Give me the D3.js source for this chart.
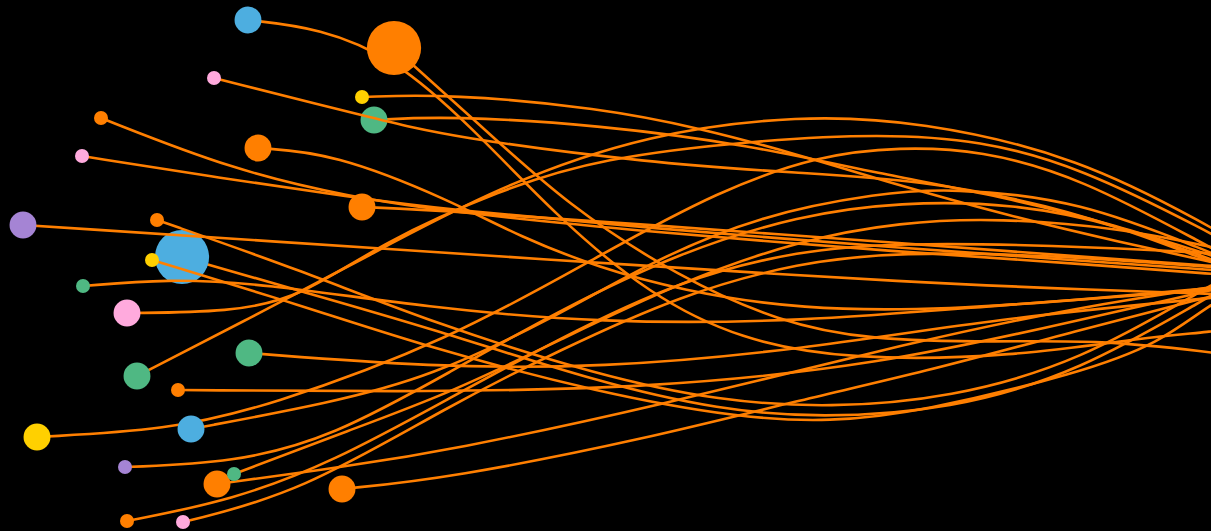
<!DOCTYPE html>
<html>
<head>
<meta charset="utf-8">
<script src="https://cdn.jsdelivr.net/npm/d3@7"></script>
<style>
    html, body { margin: 0; padding: 0; background: #000; overflow: hidden; }
    svg { display: block; }
</style>
</head>
<body>
<svg id="chart"></svg>
<script>
// node positions (picture units), group and weight
const nodeX = [182, 374, 248, 394, 214, 101, 362, 82, 258, 362, 23, 157, 152, 83, 127, 249, 137, 178, 37, 191, 125, 217, 234, 342, 127, 183];
const nodeY = [257, 120, 20, 48, 78, 118, 97, 156, 148, 207, 225, 220, 260, 286, 313, 353, 376, 390, 437, 429, 467, 484, 474, 489, 521, 522];
const nodeValue = [15, 3.7, 3.7, 15, 1, 1, 1, 1, 3.7, 3.7, 3.7, 1, 1, 1, 3.7, 3.7, 3.7, 1, 3.7, 3.7, 1, 3.7, 1, 3.7, 1, 1];
const nodeGroup = ['blue', 'green', 'blue', 'orange', 'pink', 'orange', 'yellow', 'pink', 'orange', 'orange', 'purple', 'orange',
    'yellow', 'green', 'pink', 'green', 'green', 'orange', 'yellow', 'blue', 'purple', 'orange', 'green', 'orange', 'orange', 'pink'];

// points read along each node's link, same order as the nodes
const linkPoints = [
    [[182,257],[300,291],[430,328],[600,383],[720,410],[820,418],[950,410],[1080,372],[1211,295],[1250,275]],
    [[374,120],[450,116],[600,125],[750,145],[880,174],[1000,196],[1120,226],[1211,256],[1250,266]],
    [[248,20],[320,28],[394,58],[470,125],[560,220],[650,295],[740,340],[850,360],[1013,357],[1147,337],[1211,332],[1250,326]],
    [[394,48],[480,125],[567,205],[680,278],[780,322],[867,340],[1000,342],[1100,340],[1211,352],[1250,358]],
    [[214,78],[373,118],[450,137],[650,163],[800,173],[920,180],[1050,205],[1150,238],[1211,262],[1250,276]],
    [[101,118],[233,170],[350,197],[450,212],[650,232],[900,252],[1100,265],[1211,274],[1250,276]],
    [[362,97],[450,94],[600,108],[700,128],[800,155],[880,180],[1013,217],[1120,242],[1211,262],[1250,270]],
    [[82,156],[220,178],[350,197],[450,210],[650,228],[900,248],[1100,262],[1211,270],[1250,272]],
    [[258,148],[333,153],[450,200],[520,237],[600,268],[680,290],[800,310],[950,310],[1100,298],[1211,288],[1250,285]],
    [[362,207],[450,211],[650,225],[900,243],[1100,258],[1211,266],[1250,268]],
    [[23,225],[450,253],[600,263],[920,283],[1100,290],[1211,294],[1250,295]],
    [[157,220],[300,270],[430,322],[600,376],[720,401],[830,408],[950,398],[1080,362],[1211,285],[1250,264]],
    [[152,260],[300,305],[430,348],[600,393],[740,418],[830,422],[920,412],[1080,373],[1160,343],[1211,303],[1250,285]],
    [[83,286],[167,279],[260,283],[430,308],[600,323],[800,322],[1000,305],[1211,290],[1250,287]],
    [[127,313],[230,312],[300,298],[383,242],[500,190],[600,158],[760,140],[880,134],[980,140],[1080,167],[1211,233],[1250,255]],
    [[249,353],[430,367],[600,368],[800,350],[1000,318],[1211,298],[1250,294]],
    [[137,376],[250,318],[357,262],[500,185],[650,133],[800,115],[920,121],[1080,157],[1211,227],[1250,250]],
    [[178,390],[430,392],[650,388],[880,365],[1080,320],[1211,290],[1250,282]],
    [[37,437],[167,430],[267,407],[450,340],[600,255],[720,190],[820,155],[900,147],[980,150],[1080,177],[1211,248],[1250,268]],
    [[191,429],[330,403],[430,377],[550,320],[650,262],[760,215],[880,193],[950,188],[1080,200],[1211,253],[1250,268]],
    [[125,467],[233,463],[333,437],[450,372],[560,310],[680,252],[800,215],[900,202],[1013,203],[1120,225],[1211,260],[1250,272]],
    [[217,484],[350,466],[450,450],[650,408],[920,340],[1080,307],[1211,287],[1250,282]],
    [[234,474],[350,430],[450,393],[560,340],[680,282],[800,240],[900,222],[1000,218],[1120,228],[1211,247],[1250,255]],
    [[342,489],[450,478],[650,438],[800,400],[920,373],[1080,330],[1211,296],[1250,288]],
    [[127,521],[233,500],[333,462],[450,398],[560,338],[680,280],[800,250],[900,243],[1050,245],[1211,253],[1250,256]],
    [[183,522],[300,493],[450,405],[560,350],[680,295],[800,262],[900,252],[1050,255],[1211,267],[1250,270]]
];

const groups = ['orange', 'blue', 'pink', 'yellow', 'green', 'purple'];

// set up the drawing
const width = 1211;
const height = 531;

const svg = d3.select('#chart')
    .attr('width', width)
    .attr('height', height)
    .attr('viewBox', `0 0 ${width} ${height}`);

svg.append('rect').attr('width', width).attr('height', height).attr('fill', '#000');

const xScale = d3.scaleLinear().domain([0, 1211]).range([0, width]);
const yScale = d3.scaleLinear().domain([0, 531]).range([0, height]);
const rScale = d3.scaleSqrt().domain([0, 1]).range([0, 7]);
const colorScale = d3.scaleOrdinal()
    .domain(groups)
    .range(['#ff7f00', '#4daee0', '#ffaadd', '#ffd000', '#4fb883', '#a584d4']);

// b-spline smooths the read points into clean curves
const line = d3.line()
    .x(d => xScale(d[0]))
    .y(d => yScale(d[1]))
    .curve(d3.curveBasis);

const nodes = nodeX.map((x, i) => ({ x, y: nodeY[i], v: nodeValue[i], group: nodeGroup[i], pts: linkPoints[i] }));

// each node draws its link first, then its circle
const g = svg.selectAll('g.node')
    .data(nodes)
    .join('g')
    .attr('class', 'node');

g.append('path')
    .attr('d', d => line(d.pts))
    .attr('fill', 'none')
    .attr('stroke', colorScale('orange'))
    .attr('stroke-width', 2.6);

g.append('circle')
    .attr('cx', d => xScale(d.x))
    .attr('cy', d => yScale(d.y))
    .attr('r', d => rScale(d.v))
    .attr('fill', d => colorScale(d.group));
</script>
</body>
</html>
